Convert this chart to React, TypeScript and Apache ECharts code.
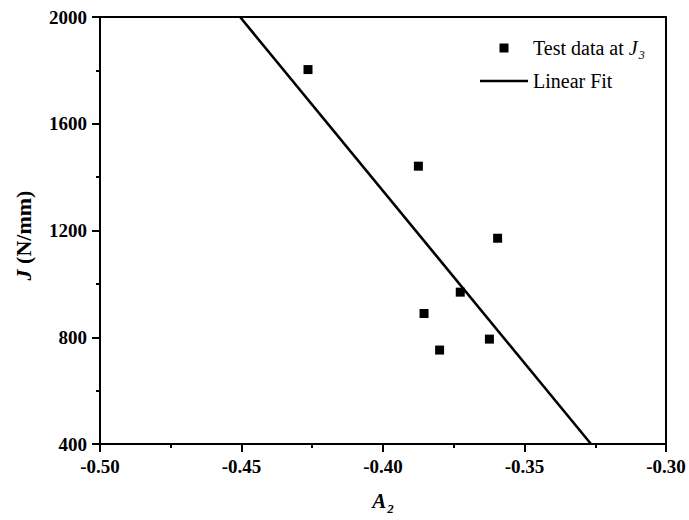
import React, { useEffect, useRef } from "react";
import * as echarts from "echarts";

const xTickLabels = ["-0.50", "-0.45", "-0.40", "-0.35", "-0.30"];
const yTickLabels = ["400", "800", "1200", "1600", "2000"];

const testA2 = [-0.4265, -0.3875, -0.3595, -0.3727, -0.3855, -0.3624, -0.380];
const testJ = [1803, 1441, 1171, 969, 889, 793, 752];

const fitA2 = [-0.4505, -0.3265];
const fitJ = [2000, 400];

const FONT = "Liberation Serif";

const lineSt = { color: "#000", width: 2 };

export default function App() {
  const ref = useRef<HTMLDivElement>(null);
  useEffect(() => {
    if (!ref.current) return;
    const chart = echarts.init(ref.current, null, { renderer: "svg" });
    const scatterData = testA2.map((x, i) => [x, testJ[i]]);
    const fitData = fitA2.map((x, i) => [x, fitJ[i]]);
    chart.setOption({
      animation: false,
      backgroundColor: "#ffffff",
      grid: { left: 100, right: 23, top: 17, bottom: 73 },
      legend: {
        left: 475,
        top: 33,
        orient: "vertical",
        align: "left",
        itemWidth: 48,
        itemHeight: 9,
        itemGap: 10,
        symbolKeepAspect: true,
        data: [
          { name: "Test data at J3", icon: "path://M0,0L10,0L10,10L0,10Z" },
          { name: "Linear Fit", icon: "path://M0,0L160,0L160,9L0,9Z" },
        ],
        formatter: (name: string) =>
          name === "Test data at J3" ? "{t|Test data at }{i|J}{s|3}" : "{t|" + name + "}",
        textStyle: {
          fontFamily: FONT,
          fontSize: 20,
          color: "#000",
          rich: {
            t: { fontFamily: FONT, fontSize: 20, color: "#000", verticalAlign: "bottom" },
            i: { fontFamily: FONT, fontSize: 20, fontStyle: "italic", color: "#000", verticalAlign: "bottom" },
            s: { fontFamily: FONT, fontSize: 12, fontStyle: "italic", color: "#000", verticalAlign: "bottom", padding: [0, 0, -3, 1] },
          },
        },
      },
      xAxis: [
        {
          type: "value",
          position: "bottom",
          min: -0.5,
          max: -0.3,
          interval: 0.05,
          name: "{i|A}{s|2}",
          nameLocation: "middle",
          nameGap: 46,
          nameTextStyle: {
            rich: {
              i: { fontFamily: FONT, fontSize: 21, fontWeight: "bold", fontStyle: "italic", color: "#000", verticalAlign: "bottom" },
              s: { fontFamily: FONT, fontSize: 13, fontWeight: "bold", fontStyle: "italic", color: "#000", verticalAlign: "bottom", padding: [0, 0, -4, 1] },
            },
          },
          axisLine: { show: true, onZero: false, lineStyle: lineSt },
          axisTick: { show: true, inside: false, length: 8, lineStyle: lineSt },
          minorTick: { show: true, splitNumber: 2, length: 4, lineStyle: lineSt },
          splitLine: { show: false },
          axisLabel: {
            margin: 13,
            fontFamily: FONT,
            fontSize: 19,
            fontWeight: "bold",
            color: "#000",
            formatter: (v: number) => {
              const idx = Math.round((v + 0.5) / 0.05);
              return xTickLabels[idx] ?? v.toFixed(2);
            },
          },
        },
        {
          type: "value",
          position: "top",
          min: -0.5,
          max: -0.3,
          interval: 0.05,
          axisLine: { show: true, onZero: false, lineStyle: lineSt },
          axisTick: { show: false },
          axisLabel: { show: false },
          splitLine: { show: false },
        },
      ],
      yAxis: [
        {
          type: "value",
          position: "left",
          min: 400,
          max: 2000,
          interval: 400,
          name: "{i|J}{t| (N/mm)}",
          nameLocation: "middle",
          nameRotate: 90,
          nameGap: 66,
          nameTextStyle: {
            padding: [0, 10, 0, 0],
            rich: {
              i: { fontFamily: FONT, fontSize: 22, fontWeight: "bold", fontStyle: "italic", color: "#000" },
              t: { fontFamily: FONT, fontSize: 22, fontWeight: "bold", color: "#000" },
            },
          },
          axisLine: { show: true, onZero: false, lineStyle: lineSt },
          axisTick: { show: true, inside: false, length: 8, lineStyle: lineSt },
          minorTick: { show: true, splitNumber: 2, length: 4, lineStyle: lineSt },
          splitLine: { show: false },
          axisLabel: {
            margin: 13,
            fontFamily: FONT,
            fontSize: 19,
            fontWeight: "bold",
            color: "#000",
            formatter: (v: number) => {
              const idx = Math.round((v - 400) / 400);
              return yTickLabels[idx] ?? String(v);
            },
          },
        },
        {
          type: "value",
          position: "right",
          min: 400,
          max: 2000,
          interval: 400,
          axisLine: { show: true, onZero: false, lineStyle: lineSt },
          axisTick: { show: false },
          axisLabel: { show: false },
          splitLine: { show: false },
        },
      ],
      series: [
        {
          name: "Test data at J3",
          type: "scatter",
          symbol: "rect",
          symbolSize: 9,
          itemStyle: { color: "#000", opacity: 1 },
          data: scatterData,
          z: 3,
        },
        {
          name: "Linear Fit",
          type: "line",
          showSymbol: false,
          symbol: "none",
          lineStyle: { color: "#000", width: 2.6 },
          itemStyle: { color: "#000" },
          data: fitData,
          z: 2,
        },
      ],
    });
    return () => chart.dispose();
  }, []);
  return (
    <div
      ref={ref}
      style={{ position: "fixed", left: 0, top: 0, width: 689, height: 520, background: "#fff" }}
    />
  );
}
